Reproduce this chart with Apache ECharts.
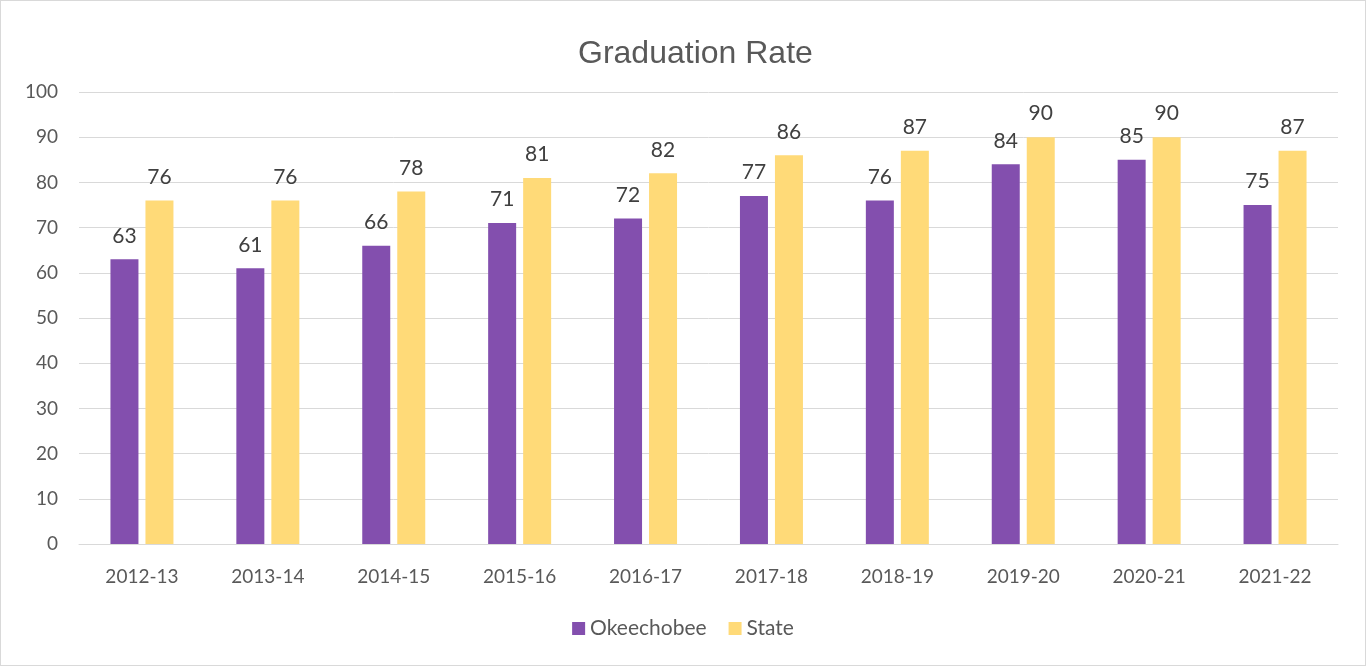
<!DOCTYPE html>
<html>
<head>
<meta charset="utf-8">
<script src="https://cdn.jsdelivr.net/npm/echarts@6/dist/echarts.min.js"></script>
<style>
html, body { margin: 0; padding: 0; background: #fff; }
#main { width: 1366px; height: 666px; box-sizing: border-box; border: 1px solid #d9d9d9; }
</style>
</head>
<body>
<div id="main"></div>
<script>
var years = ['2012-13', '2013-14', '2014-15', '2015-16', '2016-17', '2017-18', '2018-19', '2019-20', '2020-21', '2021-22'];
var okeechobee = [63, 61, 66, 71, 72, 77, 76, 84, 85, 75];
var state = [76, 76, 78, 81, 82, 86, 87, 90, 90, 87];

var fontFamily = 'Lato, "Open Sans", sans-serif';
var textColor = '#595959';

var chart = echarts.init(document.getElementById('main'));

var labelStyle = {
    show: true,
    position: 'top',
    distance: 13,
    color: '#404040',
    fontSize: 21,
    fontFamily: fontFamily
};

chart.setOption({
    animation: false,
    title: {
        text: 'Graduation Rate',
        left: 572,
        top: 32,
        textStyle: { color: textColor, fontSize: 32, fontWeight: 'normal', fontFamily: '"Liberation Sans", Arial, sans-serif' }
    },
    legend: {
        bottom: 21,
        left: 'center',
        itemWidth: 13,
        itemHeight: 13,
        itemGap: 22,
        icon: 'rect',
        textStyle: { color: textColor, fontSize: 21, fontFamily: fontFamily },
        data: ['Okeechobee', 'State']
    },
    grid: { left: 78, right: 27, top: 91, bottom: 121, containLabel: false },
    xAxis: {
        type: 'category',
        data: years,
        axisLine: { lineStyle: { color: '#d9d9d9' } },
        axisTick: { show: false },
        axisLabel: { color: textColor, fontSize: 19, fontFamily: fontFamily, margin: 23 }
    },
    yAxis: {
        type: 'value',
        min: 0,
        max: 100,
        interval: 10,
        axisLine: { show: false },
        axisTick: { show: false },
        splitLine: { lineStyle: { color: '#d9d9d9' } },
        axisLabel: { color: textColor, fontSize: 19, fontFamily: fontFamily, margin: 21 }
    },
    series: [
        {
            name: 'Okeechobee',
            type: 'bar',
            data: okeechobee,
            barWidth: 28,
            barGap: '25%',
            itemStyle: { color: '#834FAE' },
            label: labelStyle
        },
        {
            name: 'State',
            type: 'bar',
            data: state,
            barWidth: 28,
            itemStyle: { color: '#FFDA78' },
            label: labelStyle
        }
    ]
});
</script>
</body>
</html>
